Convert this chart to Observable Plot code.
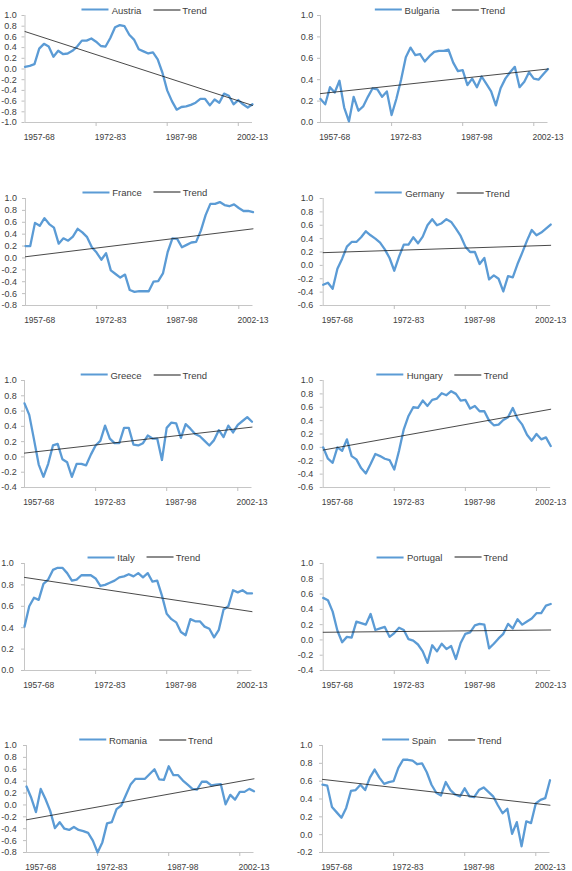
<!DOCTYPE html>
<html>
<head>
<meta charset="utf-8">
<script src="https://cdn.jsdelivr.net/npm/d3@7"></script>
<script src="https://cdn.jsdelivr.net/npm/@observablehq/plot@0.6"></script>
<style>
  html, body { margin: 0; padding: 0; background: #ffffff; }
  #root { position: relative; width: 572px; height: 871px; overflow: hidden; font-family: "Liberation Sans", Arial, sans-serif; }
  .panel { position: absolute; }
  .legend { position: absolute; display: flex; align-items: center; white-space: nowrap; font-size: 9.5px; color: #404040; transform: translate(-50%, -50%); }
  .legend .sw { display: inline-block; width: 27px; margin-right: 3px; }
  .legend .gap { display: inline-block; width: 12px; }
</style>
</head>
<body>
<div id="root"></div>
<script>
// Rolling 12-year windows: start years (1954-65 ... 2002-13)
const startYears = [1954,1955,1956,1957,1958,1959,1960,1961,1962,1963,1964,1965,1966,1967,1968,1969,1970,1971,1972,1973,1974,1975,1976,1977,1978,1979,1980,1981,1982,1983,1984,1985,1986,1987,1988,1989,1990,1991,1992,1993,1994,1995,1996,1997,1998,1999,2000,2001,2002];
const xLabelYears = [1957, 1972, 1987, 2002];
const xLabels = ["1957-68", "1972-83", "1987-98", "2002-13"];
const xTickMarkYears = [1969, 1984, 1999];

const austria  = [0.04,0.06,0.09,0.38,0.47,0.42,0.23,0.34,0.28,0.29,0.34,0.42,0.53,0.53,0.57,0.51,0.43,0.42,0.58,0.78,0.82,0.80,0.64,0.55,0.37,0.33,0.29,0.31,0.18,-0.07,-0.40,-0.60,-0.76,-0.71,-0.70,-0.67,-0.63,-0.56,-0.56,-0.68,-0.57,-0.63,-0.46,-0.50,-0.66,-0.58,-0.66,-0.72,-0.66];
const bulgaria = [0.22,0.17,0.33,0.28,0.39,0.14,0.01,0.24,0.11,0.15,0.24,0.32,0.31,0.24,0.29,0.07,0.22,0.40,0.61,0.70,0.63,0.64,0.57,0.62,0.66,0.67,0.67,0.68,0.56,0.48,0.49,0.35,0.41,0.33,0.43,0.36,0.29,0.16,0.32,0.41,0.47,0.52,0.33,0.38,0.47,0.41,0.40,0.45,0.50];
const france   = [0.20,0.20,0.59,0.54,0.67,0.57,0.51,0.24,0.33,0.29,0.36,0.49,0.43,0.35,0.18,0.09,-0.03,0.08,-0.21,-0.27,-0.33,-0.28,-0.54,-0.57,-0.56,-0.56,-0.56,-0.40,-0.39,-0.26,0.10,0.33,0.32,0.18,0.22,0.26,0.27,0.46,0.72,0.91,0.91,0.94,0.89,0.87,0.90,0.84,0.79,0.79,0.77];
const germany  = [-0.29,-0.26,-0.35,-0.05,0.10,0.28,0.35,0.35,0.42,0.51,0.45,0.40,0.34,0.24,0.11,-0.08,0.13,0.31,0.31,0.42,0.33,0.43,0.60,0.69,0.60,0.63,0.69,0.65,0.55,0.44,0.28,0.20,0.20,0.02,0.11,-0.21,-0.15,-0.20,-0.39,-0.16,-0.18,0.02,0.19,0.37,0.53,0.45,0.49,0.55,0.61];
const greece   = [0.70,0.55,0.23,-0.10,-0.26,-0.09,0.15,0.17,-0.03,-0.07,-0.26,-0.09,-0.09,-0.11,0.03,0.15,0.21,0.41,0.24,0.18,0.18,0.38,0.38,0.16,0.15,0.18,0.28,0.24,0.24,-0.04,0.38,0.45,0.44,0.25,0.43,0.37,0.30,0.27,0.21,0.15,0.22,0.35,0.26,0.41,0.32,0.42,0.47,0.52,0.46];
const hungary  = [0.00,-0.17,-0.23,0.00,-0.05,0.12,-0.13,-0.18,-0.31,-0.39,-0.25,-0.10,-0.13,-0.17,-0.19,-0.33,-0.05,0.27,0.47,0.60,0.59,0.70,0.62,0.71,0.73,0.81,0.78,0.84,0.80,0.70,0.71,0.58,0.62,0.54,0.54,0.40,0.33,0.34,0.41,0.45,0.59,0.43,0.34,0.19,0.10,0.20,0.12,0.15,0.02];
const italy    = [0.41,0.60,0.68,0.66,0.81,0.85,0.94,0.96,0.96,0.91,0.84,0.85,0.89,0.89,0.89,0.86,0.79,0.80,0.82,0.84,0.87,0.88,0.90,0.88,0.91,0.87,0.91,0.83,0.84,0.70,0.53,0.48,0.45,0.36,0.33,0.48,0.46,0.46,0.41,0.39,0.31,0.38,0.57,0.60,0.75,0.73,0.75,0.72,0.72];
const portugal = [0.55,0.52,0.37,0.12,-0.03,0.04,0.03,0.24,0.22,0.20,0.34,0.13,0.15,0.17,0.04,0.09,0.16,0.13,0.01,-0.01,-0.06,-0.15,-0.30,-0.07,-0.15,-0.05,-0.12,-0.08,-0.25,-0.04,0.08,0.10,0.19,0.21,0.20,-0.11,-0.05,0.02,0.08,0.21,0.15,0.27,0.20,0.24,0.28,0.35,0.35,0.45,0.47];
const romania  = [0.31,0.12,-0.12,0.27,0.10,-0.10,-0.39,-0.29,-0.40,-0.42,-0.37,-0.42,-0.44,-0.47,-0.60,-0.80,-0.63,-0.31,-0.29,-0.07,-0.01,0.17,0.35,0.44,0.44,0.44,0.52,0.60,0.43,0.42,0.65,0.50,0.50,0.41,0.34,0.27,0.26,0.39,0.39,0.33,0.34,0.35,0.01,0.17,0.09,0.22,0.22,0.27,0.23];
const spain    = [0.56,0.55,0.31,0.25,0.19,0.30,0.49,0.50,0.56,0.50,0.64,0.73,0.64,0.57,0.59,0.60,0.75,0.84,0.84,0.83,0.79,0.80,0.70,0.56,0.47,0.44,0.59,0.50,0.45,0.43,0.52,0.43,0.42,0.50,0.53,0.48,0.43,0.33,0.24,0.29,0.01,0.14,-0.13,0.15,0.13,0.35,0.39,0.41,0.61];

// Trend line endpoints (first window, last window)
const austriaTrend  = [0.70, -0.68];
const bulgariaTrend = [0.27, 0.50];
const franceTrend   = [0.02, 0.49];
const germanyTrend  = [0.19, 0.30];
const greeceTrend   = [0.05, 0.39];
const hungaryTrend  = [-0.04, 0.57];
const italyTrend    = [0.87, 0.55];
const portugalTrend = [0.10, 0.13];
const romaniaTrend  = [-0.25, 0.44];
const spainTrend    = [0.62, 0.33];

const countries = ["Austria","Bulgaria","France","Germany","Greece","Hungary","Italy","Portugal","Romania","Spain"];
const seriesValues = [austria, bulgaria, france, germany, greece, hungary, italy, portugal, romania, spain];
const trendValues = [austriaTrend, bulgariaTrend, franceTrend, germanyTrend, greeceTrend, hungaryTrend, italyTrend, portugalTrend, romaniaTrend, spainTrend];
const yMins = [-1.0, 0.0, -0.8, -0.6, -0.4, -0.6, 0.0, -0.4, -0.8, -0.2];

// Layout (pixels): panel left, plot top, axis offset, label padding
const layout = [
  {left: 0,   top: 15,    ml: 24.5, pad: 5.2},
  {left: 286, top: 15,    ml: 34,   pad: 4.3},
  {left: 0,   top: 197.5, ml: 25,   pad: 5.5},
  {left: 286, top: 198.3, ml: 36.7, pad: 7},
  {left: 0,   top: 380,   ml: 24,   pad: 4.8},
  {left: 286, top: 380,   ml: 36.7, pad: 7},
  {left: 0,   top: 562.7, ml: 24,   pad: 7.7},
  {left: 286, top: 562.7, ml: 36.7, pad: 7},
  {left: 0,   top: 745,   ml: 26,   pad: 6.8},
  {left: 286, top: 745,   ml: 36,   pad: 7}
];

const BLUE = "#5B9BD5";
const AXIS = "#bfbfbf";
const TEXT = "#404040";
const PW = 286, PLOTW = 227.5, PLOTH = 107, MT = 6, MB = 27;

const root = document.getElementById("root");

countries.forEach((name, k) => {
  const L = layout[k];
  const vals = seriesValues[k];
  const data = startYears.map((yr, i) => ({year: yr, value: vals[i]}));
  const trend = [
    {year: startYears[0], value: trendValues[k][0]},
    {year: startYears[startYears.length - 1], value: trendValues[k][1]}
  ];
  const yMin = yMins[k];
  const yTicks = d3.range(Math.round(yMin * 10), 11, 2).map(d => d / 10);

  const chart = Plot.plot({
    width: PW,
    height: MT + PLOTH + MB,
    marginTop: MT,
    marginBottom: MB,
    marginLeft: L.ml,
    marginRight: PW - L.ml - PLOTW,
    style: {fontFamily: '"Liberation Sans", Arial, sans-serif', background: "transparent", overflow: "visible", color: TEXT},
    x: {domain: [startYears[0], startYears[startYears.length - 1]], label: null},
    y: {domain: [yMin, 1.0], label: null},
    marks: [
      Plot.ruleX([startYears[0]], {stroke: AXIS, strokeWidth: 0.9}),
      Plot.ruleY([yMin], {stroke: AXIS, strokeWidth: 0.9}),
      Plot.axisY({ticks: yTicks, tickSize: 3, tickPadding: L.pad, tickFormat: d => d.toFixed(1), stroke: AXIS, fill: TEXT, fontSize: 9, label: null}),
      Plot.axisX({ticks: xTickMarkYears, tickSize: 4, tickFormat: () => "", stroke: AXIS, label: null}),
      Plot.axisX({ticks: xLabelYears, tickSize: 0, tickPadding: 11, tickFormat: d => xLabels[xLabelYears.indexOf(d)], fill: TEXT, fontSize: 8.5, label: null}),
      Plot.line(data, {x: "year", y: "value", stroke: BLUE, strokeWidth: 2.3, strokeLinejoin: "round"}),
      Plot.line(trend, {x: "year", y: "value", stroke: "#1a1a1a", strokeWidth: 0.8})
    ]
  });

  const panel = document.createElement("div");
  panel.className = "panel";
  panel.style.left = L.left + "px";
  panel.style.top = (L.top - MT) + "px";
  panel.appendChild(chart);
  root.appendChild(panel);

  const legend = document.createElement("div");
  legend.className = "legend";
  legend.style.left = (L.left + L.ml + PLOTW / 2 + 6) + "px";
  legend.style.top = (L.top - 5.5) + "px";
  legend.innerHTML =
    `<span class="sw" style="border-top:2.5px solid ${BLUE}"></span><span>${name}</span>` +
    `<span class="gap"></span>` +
    `<span class="sw" style="border-top:1px solid #1a1a1a;margin-right:2px"></span><span>Trend</span>`;
  root.appendChild(legend);
});
</script>
</body>
</html>
